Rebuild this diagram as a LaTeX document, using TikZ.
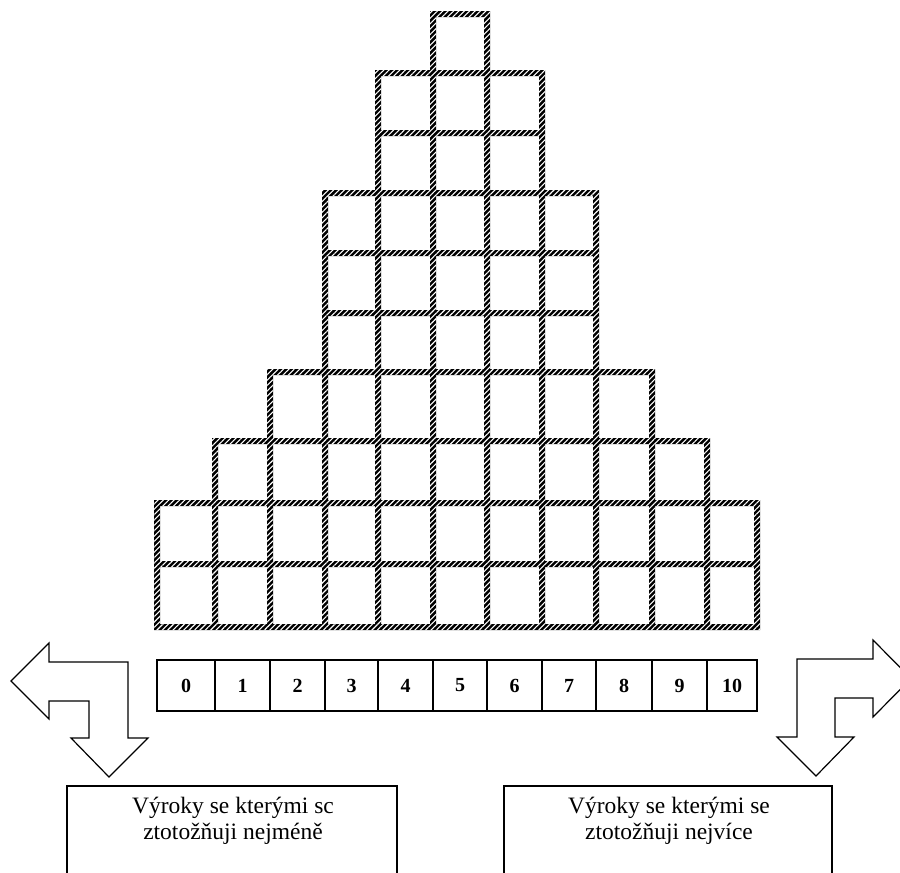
\documentclass[tikz,border=0pt]{standalone}
\usepackage{fontspec}
\setmainfont{Liberation Serif}
\usetikzlibrary{patterns.meta}
\tikzset{
  rope/.style={fill=black, postaction={pattern={Lines[angle=45,distance=3.8pt,line width=1.1pt]}, pattern color=white}},
  numbox/.style={draw, line width=1.6pt, minimum height=51pt, inner sep=0pt, font=\fontsize{20}{20}\selectfont\bfseries},
  arrowshape/.style={draw, line width=1.2pt, line join=miter},
  bigbox/.style={draw, line width=1.5pt, minimum width=330pt, minimum height=200pt, anchor=north, inner sep=0pt},
  boxtext/.style={align=center, font=\fontsize{23.5}{25.5}\selectfont, anchor=north, inner sep=0pt}
}
\begin{document}
\begin{tikzpicture}[x=1pt,y=-1pt]
\useasboundingbox (0,0) rectangle (900,873);
\clip (0,0) rectangle (900,873);
\fill[white] (0,0) rectangle (900,873);
% pyramid grid
\fill[rope]
  \foreach \x/\t in {157/503,215/441,270/372,325/193,378/73,433/14,487/14,542/73,596/193,652/372,707/441,757/503}
    {(\x-3,\t-3) rectangle (\x+3,630)}
  \foreach \y/\l/\r in {627/157/757,564/157/757,503/157/757,441/215/707,372/270/652,313/325/596,253/325/596,193/325/596,133/378/542,73/378/542,14/433/487}
    {(\l-3,\y-3) rectangle (\r+3,\y+3)};
% number scale
\foreach \j/\a/\b in {0/157/215,1/215/270,2/270/325,3/325/378,4/378/433,5/433/487,6/487/542,7/542/596,8/596/652,9/652/707,10/707/757}
  \node[numbox, minimum width={\b-\a}] (n\j) at ({(\a+\b)/2},685.5) {\j};
% left arrow
\draw[arrowshape] (11,681) -- (49,643) -- (49,662) -- (128,662) -- (128,738) -- (148,738)
  -- (109,777) -- (71,738) -- (89,738) -- (89,701) -- (49,701) -- (49,719) -- cycle;
% right arrow
\draw[arrowshape] (797,659) -- (873,659) -- (873,640) -- (911,678.5) -- (873,717) -- (873,698)
  -- (835,698) -- (835,737) -- (854,737) -- (816,776) -- (777,737) -- (797,737) -- cycle;
% bottom boxes
\node[bigbox] (leftbox) at (232,785) {};
\node[boxtext] (lefttext) at (233,797) {Výroky se kterými sc\\ztotožňuji nejméně};
\node[bigbox, minimum width=328pt] (rightbox) at (668,785) {};
\node[boxtext] (righttext) at (669,797) {Výroky se kterými se\\ztotožňuji nejvíce};
\end{tikzpicture}
\end{document}
